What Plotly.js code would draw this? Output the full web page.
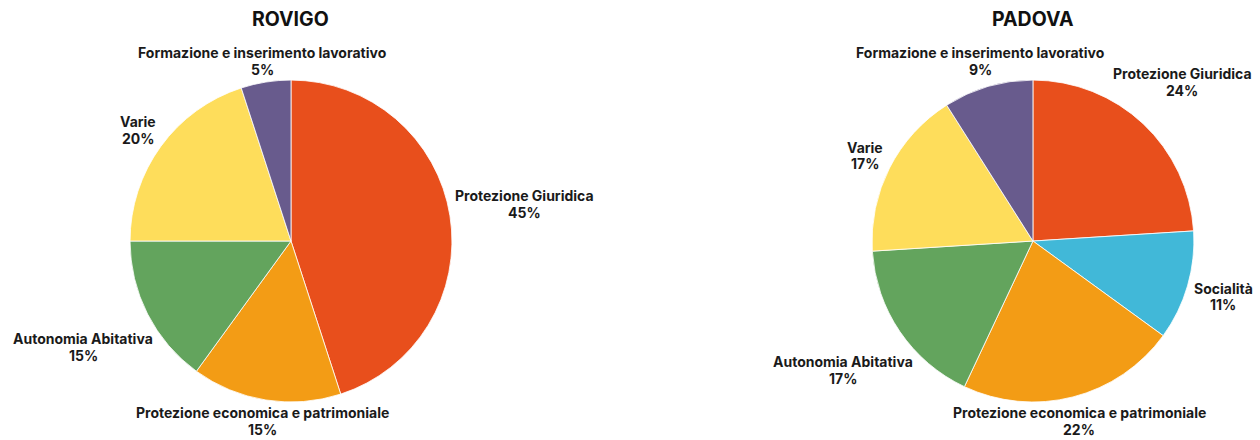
<!DOCTYPE html>
<html>
<head>
<meta charset="utf-8">
<script src="https://cdn.plot.ly/plotly-3.0.1.min.js"></script>
<style>html,body{margin:0;padding:0;background:#fff;}#chart{width:1260px;height:440px;}</style>
</head>
<body>
<div id="chart"></div>
<script>
const rovigoLabels = ["Protezione Giuridica", "Protezione economica e patrimoniale", "Autonomia Abitativa", "Varie", "Formazione e inserimento lavorativo"];
const rovigoValues = [45, 15, 15, 20, 5];
const rovigoColors = ["#E84F1C", "#F39C15", "#63A45D", "#FEDD5B", "#685B8D"];

const padovaLabels = ["Protezione Giuridica", "Socialità", "Protezione economica e patrimoniale", "Autonomia Abitativa", "Varie", "Formazione e inserimento lavorativo"];
const padovaValues = [24, 11, 22, 17, 17, 9];
const padovaColors = ["#E84F1C", "#41B8D8", "#F39C15", "#63A45D", "#FEDD5B", "#685B8D"];

const titles = ["ROVIGO", "PADOVA"];

const FONT = "Inter, 'Open Sans', sans-serif";
const LABEL_SIZE = 14;
const LINE_STEP = 16.5;
const TITLE_SIZE = 19.5;
const W = 1260, H = 440;
const domainsX = [[0.1032, 0.3587], [0.692, 0.9476]];
const domainY = [0.0864, 0.818];

function pieTrace(labels, values, colors, domainX) {
  return {
    type: "pie",
    labels: labels,
    values: values,
    sort: false,
    direction: "clockwise",
    rotation: 0,
    marker: {colors: colors, line: {color: "#ffffff", width: 0.8}},
    textinfo: "none",
    hoverinfo: "label+value",
    domain: {x: domainX, y: domainY},
    automargin: false,
    showlegend: false
  };
}

const data = [
  pieTrace(rovigoLabels, rovigoValues, rovigoColors, domainsX[0]),
  pieTrace(padovaLabels, padovaValues, padovaColors, domainsX[1])
];

const titleAnns = titles.map((t, i) => ({
  text: "<b>" + t + "</b>",
  x: (domainsX[i][0] + domainsX[i][1]) / 2, y: 0.957,
  xref: "paper", yref: "paper", xanchor: "center", yanchor: "middle",
  showarrow: false, font: {family: FONT, size: TITLE_SIZE, color: "#111111"}
}));

const layout = {
  width: W,
  height: H,
  margin: {l: 0, r: 0, t: 0, b: 0},
  paper_bgcolor: "#ffffff",
  showlegend: false,
  annotations: titleAnns
};

const canvas = document.createElement("canvas");
const ctx = canvas.getContext("2d");
ctx.font = "700 " + LABEL_SIZE + "px Inter, 'Open Sans', sans-serif";

function boxDistance(t, dx, dy, hw, hh) {
  const cx = t * dx, cy = t * dy;
  const nx = Math.min(Math.max(0, cx - hw), cx + hw);
  const ny = Math.min(Math.max(0, cy - hh), cy + hh);
  return Math.hypot(nx, ny);
}

function labelAnn(text, x, y) {
  return {
    text: "<b>" + text + "</b>",
    x: x / W, y: 1 - y / H,
    xref: "paper", yref: "paper", xanchor: "center", yanchor: "middle",
    align: "center", showarrow: false,
    font: {family: FONT, size: LABEL_SIZE, color: "#1a1a1a"}
  };
}

const gd = document.getElementById("chart");
Plotly.newPlot(gd, data, layout, {displayModeBar: false, staticPlot: true}).then(() => {
  const anns = titleAnns.slice();
  const gap = 5;
  gd.calcdata.forEach((cd, ti) => {
    const cd0 = cd[0];
    const r = cd0.r, cx = cd0.cx, cy = cd0.cy;
    const trace = data[ti];
    cd.forEach((pt, i) => {
      const dx = pt.pxmid[0] / r, dy = pt.pxmid[1] / r;
      const line1 = trace.labels[i];
      const line2 = trace.values[i] + "%";
      const w = Math.max(ctx.measureText(line1).width, ctx.measureText(line2).width);
      const h = LINE_STEP + LABEL_SIZE * 0.8;
      let lo = 0, hi = r * 3;
      for (let k = 0; k < 60; k++) {
        const mid = (lo + hi) / 2;
        if (boxDistance(mid, dx, dy, w / 2, h / 2) < r + gap) lo = mid; else hi = mid;
      }
      const px = cx + lo * dx, py = cy + lo * dy;
      anns.push(labelAnn(line1, px, py - LINE_STEP / 2));
      anns.push(labelAnn(line2, px, py + LINE_STEP / 2));
    });
  });
  return Plotly.relayout(gd, {annotations: anns});
});
</script>
</body>
</html>
